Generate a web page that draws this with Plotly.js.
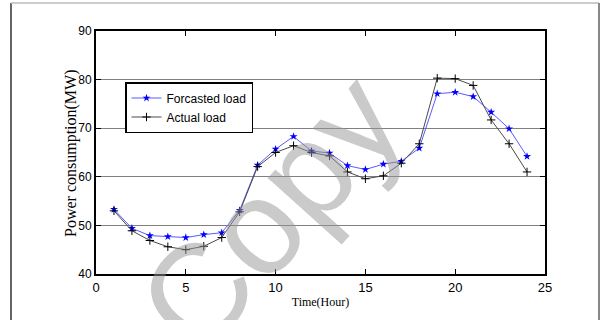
<!DOCTYPE html>
<html>
<head>
<meta charset="utf-8">
<script src="https://cdn.plot.ly/plotly-3.0.1.min.js"></script>
<style>html,body{margin:0;padding:0;background:#fff;}#chart{width:603px;height:320px;}</style>
</head>
<body>
<div id="chart"></div>
<script>
const hours = [1,2,3,4,5,6,7,8,9,10,11,12,13,14,15,16,17,18,19,20,21,22,23,24];
const forecastedLoad = [53.3,49.4,47.9,47.7,47.5,48.1,48.5,53.1,62.4,65.7,68.3,65.3,64.9,62.3,61.5,62.6,63.2,65.9,77.1,77.4,76.5,73.3,69.9,64.2];
const actualLoad = [53.0,48.9,46.9,45.6,45.0,45.7,47.5,52.8,62.1,65.0,66.4,65.0,64.3,61.0,59.6,60.2,62.8,66.8,80.3,80.2,78.8,71.7,66.8,61.0];
const xTicks = [0,5,10,15,20,25];
const yTicks = [40,50,60,70,80,90];

const L = 96, R = 58, T = 31, B = 46, W = 603, H = 320;
const pw = W - L - R, ph = H - T - B;
const px = v => (v - L) / pw;
const py = v => (H - B - v) / ph;

const sans = "Liberation Sans, Arial, sans-serif";
const serif = "Liberation Serif, Times New Roman, serif";

const traces = [
  {x: hours, y: forecastedLoad, name: 'Forcasted load', type: 'scatter', mode: 'lines+markers',
   line: {color: '#5a5aff', width: 1},
   marker: {symbol: 'star', size: 6, color: '#0000ff', line: {width: 0}}},
  {x: hours, y: actualLoad, name: 'Actual load', type: 'scatter', mode: 'lines+markers',
   line: {color: '#4a4a4a', width: 1},
   marker: {symbol: 'cross-thin', size: 6, color: '#000', line: {color: '#000', width: 1}}}
];

const layout = {
  width: W, height: H,
  margin: {l: L, r: R, t: T, b: B, pad: 0},
  paper_bgcolor: '#fff', plot_bgcolor: '#fff',
  showlegend: true,
  legend: {x: px(125), y: py(82), xanchor: 'left', yanchor: 'top',
    bgcolor: '#fff', bordercolor: '#000', borderwidth: 1.5,
    font: {family: sans, size: 12, color: '#000'}, tracegroupgap: 0},
  xaxis: {range: [0, 25], tickvals: xTicks, ticktext: xTicks.map(String),
    ticks: 'inside', ticklen: 5, tickwidth: 1, tickcolor: '#000',
    showline: true, linecolor: '#000', linewidth: 2, mirror: 'ticks',
    showgrid: false, zeroline: false,
    tickfont: {family: sans, size: 13, color: '#000'},
    title: {text: 'Time(Hour)', font: {family: serif, size: 12, color: '#000'}, standoff: 4}},
  yaxis: {range: [40, 90], tickvals: yTicks, ticktext: yTicks.map(String),
    ticks: 'inside', ticklen: 5, tickwidth: 1, tickcolor: '#000',
    showline: true, linecolor: '#000', linewidth: 2, mirror: 'ticks',
    showgrid: true, gridcolor: '#808080', gridwidth: 1, zeroline: false,
    tickfont: {family: sans, size: 12, color: '#000'},
    title: {text: ''}},
  shapes: [
    {type: 'line', xref: 'paper', yref: 'paper', x0: px(11), x1: px(11), y0: py(3), y1: py(322), line: {color: '#333', width: 1.5}},
    {type: 'line', xref: 'paper', yref: 'paper', x0: px(11), x1: px(599), y0: py(3), y1: py(3), line: {color: '#bbb', width: 1.5}},
    {type: 'line', xref: 'paper', yref: 'paper', x0: px(599), x1: px(599), y0: py(3), y1: py(322), line: {color: '#888', width: 2}}
  ],
  annotations: [
    {text: 'Power consumption(MW)', xref: 'paper', yref: 'paper', x: px(71), y: py(153), xanchor: 'center', yanchor: 'middle',
     showarrow: false, textangle: -90, font: {family: serif, size: 16, color: '#000'}},
    {text: 'Copy', xref: 'paper', yref: 'paper', x: px(270), y: py(212), xanchor: 'center', yanchor: 'middle',
     showarrow: false, textangle: -48, font: {family: sans, size: 135, color: 'rgba(150,150,150,0.5)'}}
  ]
};

Plotly.newPlot('chart', traces, layout, {displayModeBar: false, staticPlot: true});
</script>
</body>
</html>
